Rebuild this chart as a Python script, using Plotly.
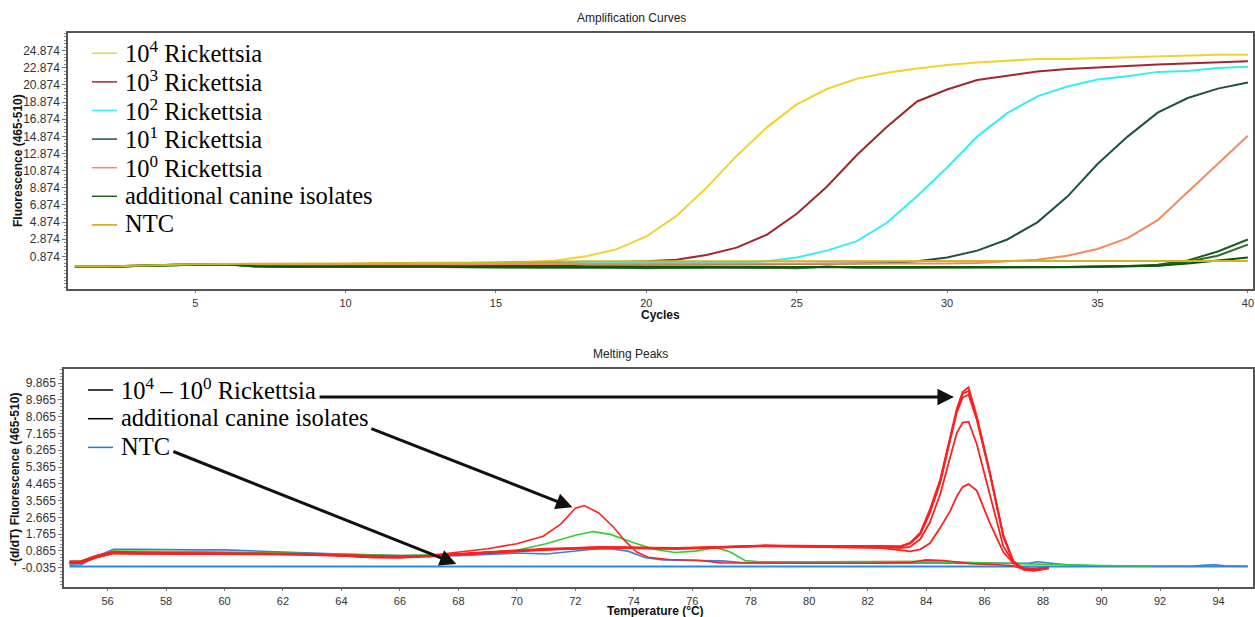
import plotly.graph_objects as go

# ---------------- Amplification data (cycles 1..40) ----------------
cycles = list(range(1, 41))

amp_1e4 = [-0.3, -0.3, -0.2, -0.1, -0.05, 0.0, -0.05, -0.05, -0.05, 0.0, 0.0, 0.05, 0.05, 0.1, 0.1, 0.2, 0.4, 0.9, 1.7, 3.2,
           5.6, 8.9, 12.6, 15.9, 18.6, 20.4, 21.6, 22.3, 22.8, 23.2, 23.5, 23.7, 23.9, 23.9, 24.0, 24.15, 24.25, 24.3, 24.4, 24.4]
amp_1e3 = [-0.3, -0.3, -0.2, -0.1, -0.05, 0.0, -0.1, -0.1, -0.1, -0.05, -0.05, 0.0, 0.0, 0.0, 0.05, 0.1, 0.1, 0.15, 0.2, 0.3,
           0.5, 1.05, 1.9, 3.4, 5.85, 9.0, 12.7, 16.0, 18.95, 20.35, 21.45, 21.95, 22.45, 22.75, 22.95, 23.1, 23.25, 23.4, 23.55, 23.65]
amp_1e2 = [-0.3, -0.3, -0.2, -0.1, -0.05, 0.0, -0.1, -0.1, -0.1, -0.05, -0.05, -0.05, 0.0, 0.0, 0.0, 0.05, 0.05, 0.1, 0.1, 0.1,
           0.1, 0.1, 0.15, 0.3, 0.75, 1.55, 2.65, 4.8, 7.9, 11.25, 14.85, 17.6, 19.55, 20.7, 21.5, 21.9, 22.4, 22.5, 22.85, 23.0]
amp_1e1 = [-0.3, -0.3, -0.2, -0.1, -0.05, 0.0, -0.15, -0.2, -0.2, -0.2, -0.2, -0.2, -0.2, -0.2, -0.2, -0.15, -0.15, -0.1, -0.1, -0.1,
           -0.1, -0.1, -0.05, -0.05, 0.0, 0.0, 0.05, 0.1, 0.3, 0.75, 1.55, 2.85, 4.85, 7.85, 11.65, 14.85, 17.65, 19.35, 20.45, 21.15]
amp_1e0 = [-0.3, -0.3, -0.2, -0.1, -0.05, 0.0, -0.1, -0.1, -0.1, -0.1, -0.05, -0.05, -0.05, -0.05, 0.0, 0.0, 0.0, 0.0, 0.0, 0.05,
           0.05, 0.05, 0.05, 0.05, 0.05, 0.05, 0.05, 0.05, 0.05, 0.05, 0.1, 0.3, 0.5, 0.95, 1.75, 3.0, 5.1, 8.4, 11.7, 14.95]
amp_can1 = [-0.35, -0.35, -0.25, -0.15, -0.1, -0.05, -0.3, -0.35, -0.35, -0.3, -0.35, -0.35, -0.35, -0.35, -0.4, -0.4, -0.4, -0.4, -0.4, -0.45,
            -0.4, -0.4, -0.4, -0.4, -0.45, -0.35, -0.4, -0.4, -0.4, -0.4, -0.4, -0.4, -0.4, -0.35, -0.3, -0.25, -0.1, 0.4, 1.45, 2.85]
amp_can2 = [-0.35, -0.35, -0.25, -0.15, -0.1, -0.05, -0.3, -0.3, -0.35, -0.3, -0.3, -0.35, -0.35, -0.4, -0.4, -0.4, -0.4, -0.4, -0.45, -0.5,
            -0.45, -0.4, -0.4, -0.45, -0.5, -0.3, -0.45, -0.45, -0.45, -0.45, -0.45, -0.45, -0.4, -0.4, -0.35, -0.3, -0.2, 0.25, 0.95, 2.25]
amp_can3 = [-0.35, -0.35, -0.25, -0.15, -0.1, -0.05, -0.25, -0.3, -0.3, -0.25, -0.3, -0.3, -0.3, -0.35, -0.35, -0.35, -0.35, -0.35, -0.4, -0.4,
            -0.4, -0.35, -0.35, -0.4, -0.4, -0.35, -0.4, -0.4, -0.4, -0.4, -0.4, -0.4, -0.4, -0.35, -0.3, -0.25, -0.2, 0.05, 0.37, 0.76]
amp_ntc = [-0.3, -0.3, -0.2, -0.1, -0.05, 0.0, 0.0, 0.0, 0.05, 0.05, 0.1, 0.1, 0.15, 0.15, 0.2, 0.25, 0.3, 0.3, 0.3, 0.3,
           0.3, 0.3, 0.3, 0.3, 0.3, 0.35, 0.35, 0.35, 0.35, 0.35, 0.35, 0.35, 0.35, 0.35, 0.35, 0.35, 0.35, 0.35, 0.35, 0.35]

amp_names = ["10<sup>4</sup> Rickettsia", "10<sup>3</sup> Rickettsia", "10<sup>2</sup> Rickettsia",
             "10<sup>1</sup> Rickettsia", "10<sup>0</sup> Rickettsia", "additional canine isolates", "NTC"]
amp_yticks = [0.874, 2.874, 4.874, 6.874, 8.874, 10.874, 12.874, 14.874, 16.874, 18.874, 20.874, 22.874, 24.874]

# ---------------- Melting peak data ----------------
temp_r = [54.7, 55.1, 55.6, 56.2, 57.0, 58.0, 59.0, 60.0, 61.0, 62.0, 63.0, 64.0, 65.0, 66.0, 67.0, 68.0, 69.0, 70.0,
          71.0, 72.0, 72.8, 73.5, 74.5, 75.5, 76.5, 77.5, 78.5, 79.5, 80.5, 81.5, 82.5, 83.1, 83.45, 83.8, 84.13, 84.48,
          84.82, 85.05, 85.25, 85.45, 85.73, 86.18, 86.64, 86.98, 87.33, 87.7, 88.2]
melt_r1 = [0.25, 0.28, 0.55, 0.78, 0.75, 0.72, 0.72, 0.72, 0.7, 0.72, 0.7, 0.62, 0.52, 0.5, 0.58, 0.68, 0.78, 0.88, 0.95, 1.0,
           1.05, 1.05, 1.02, 1.0, 1.05, 1.12, 1.15, 1.12, 1.1, 1.12, 1.1, 1.1, 1.3, 1.85, 3.1, 4.7, 7.0, 8.5, 9.4, 9.65,
           8.1, 5.1, 1.7, 0.3, -0.15, -0.2, -0.08]
melt_r2 = [0.3, 0.32, 0.6, 0.82, 0.78, 0.75, 0.74, 0.74, 0.72, 0.7, 0.68, 0.6, 0.55, 0.55, 0.6, 0.7, 0.8, 0.9, 0.98, 1.02,
           1.08, 1.02, 1.0, 0.98, 1.02, 1.08, 1.12, 1.1, 1.08, 1.1, 1.12, 1.08, 1.28, 1.8, 3.0, 4.6, 6.9, 8.4, 9.3, 9.45,
           8.0, 5.0, 1.6, 0.28, -0.12, -0.18, -0.06]
melt_r3 = [0.2, 0.22, 0.5, 0.75, 0.72, 0.7, 0.7, 0.7, 0.68, 0.68, 0.66, 0.6, 0.52, 0.5, 0.56, 0.66, 0.76, 0.86, 0.93, 0.98,
           1.02, 1.06, 1.04, 1.02, 1.06, 1.1, 1.14, 1.14, 1.12, 1.1, 1.08, 1.1, 1.25, 1.75, 2.9, 4.5, 6.8, 8.3, 9.1, 9.25,
           7.9, 5.0, 1.7, 0.32, -0.1, -0.16, -0.05]
melt_r4 = [0.28, 0.3, 0.58, 0.8, 0.76, 0.74, 0.73, 0.72, 0.72, 0.7, 0.68, 0.64, 0.58, 0.56, 0.6, 0.7, 0.8, 0.9, 0.96, 1.0,
           1.04, 1.04, 1.0, 0.98, 1.04, 1.1, 1.16, 1.12, 1.1, 1.1, 1.08, 1.02, 1.08, 1.5, 2.4, 3.9, 5.8, 7.2, 7.75, 7.8,
           6.6, 3.8, 1.1, 0.25, -0.1, -0.15, -0.05]
melt_r5 = [0.22, 0.25, 0.52, 0.76, 0.74, 0.72, 0.71, 0.7, 0.7, 0.7, 0.68, 0.62, 0.56, 0.54, 0.6, 0.68, 0.78, 0.88, 0.95, 1.0,
           1.02, 1.04, 1.02, 1.0, 1.02, 1.08, 1.12, 1.1, 1.08, 1.08, 1.02, 0.9, 0.84, 0.95, 1.27, 2.1, 3.0, 3.8, 4.3, 4.45,
           4.1, 2.35, 0.8, 0.2, -0.05, -0.1, -0.04]

temp_cred = [54.7, 55.1, 55.6, 56.2, 57.0, 58.0, 60.0, 62.0, 64.0, 66.0, 67.0, 68.0, 69.0, 70.0, 70.9, 71.5, 72.0, 72.3,
             72.8, 73.3, 73.7, 74.1, 74.5, 75.2, 76.2, 77.0, 78.0, 80.0, 82.0, 83.5, 84.0, 84.6, 85.5, 86.5, 87.0, 87.3, 88.2]
melt_cred = [0.2, 0.22, 0.5, 0.72, 0.7, 0.7, 0.7, 0.72, 0.65, 0.58, 0.62, 0.78, 0.98, 1.25, 1.65, 2.3, 3.15, 3.3,
             2.9, 2.15, 1.4, 0.8, 0.52, 0.4, 0.36, 0.22, 0.2, 0.2, 0.2, 0.25, 0.38, 0.35, 0.18, 0.12, 0.05, -0.1, -0.05]

temp_cgreen = [54.7, 55.1, 55.6, 56.2, 57.0, 58.0, 60.0, 62.0, 64.0, 66.0, 68.0, 69.0, 70.0, 71.0, 72.0, 72.6, 73.2, 74.0,
               74.7, 75.4, 76.1, 76.8, 77.3, 77.8, 78.3, 80.0, 82.0, 84.0, 86.0, 88.0, 90.0, 91.7]
melt_cgreen = [0.3, 0.32, 0.6, 0.85, 0.85, 0.82, 0.8, 0.75, 0.7, 0.62, 0.7, 0.8, 0.9, 1.25, 1.7, 1.9, 1.75, 1.3,
               0.95, 0.78, 0.85, 1.05, 0.8, 0.35, 0.28, 0.28, 0.28, 0.3, 0.22, 0.14, 0.08, 0.05]

temp_cblue = [54.7, 55.1, 55.6, 56.2, 57.0, 58.0, 59.0, 60.0, 61.0, 62.0, 64.0, 66.0, 68.0, 69.0, 70.0, 71.0, 72.0, 72.6,
              73.2, 73.8, 74.4, 75.0, 76.0, 77.0, 77.6, 78.2, 80.0, 82.0, 84.0, 86.0, 87.5, 87.8, 88.3, 88.8, 90.0, 91.0,
              92.0, 93.0, 93.6, 93.9, 94.2, 95.0]
melt_cblue = [0.1, 0.12, 0.55, 0.95, 0.95, 0.92, 0.92, 0.92, 0.88, 0.8, 0.7, 0.62, 0.6, 0.68, 0.75, 0.7, 0.85, 0.95,
              0.98, 0.85, 0.5, 0.38, 0.35, 0.33, 0.25, 0.22, 0.22, 0.22, 0.24, 0.22, 0.2, 0.28, 0.22, 0.12, 0.05, 0.05,
              0.04, 0.04, 0.1, 0.12, 0.06, 0.04]

temp_ntc = [54.7, 60.0, 70.0, 80.0, 90.0, 95.0]
melt_ntc = [0.03, 0.03, 0.03, 0.03, 0.03, 0.03]

melt_names = ["10<sup>4</sup> – 10<sup>0</sup> Rickettsia", "additional canine isolates", "NTC"]
melt_yticks = [-0.035, 0.865, 1.765, 2.665, 3.565, 4.465, 5.365, 6.265, 7.165, 8.065, 8.965, 9.865]

# ---------------- Figure ----------------
W, H = 1255, 617
fig = go.Figure()

amp_series = [amp_1e4, amp_1e3, amp_1e2, amp_1e1, amp_1e0]
amp_colors = ["#f2d22e", "#a3262c", "#33eef2", "#1f4e4b", "#f4895f"]
for vals, col, name in zip(amp_series, amp_colors, amp_names[:5]):
    fig.add_trace(go.Scatter(x=cycles, y=vals, mode="lines", name=name, line=dict(color=col, width=2),
                             xaxis="x", yaxis="y", showlegend=False))
can_colors = ["#1e5e1e", "#2b6e2b", "#0f560f"]
for vals, col in zip([amp_can1, amp_can2, amp_can3], can_colors):
    fig.add_trace(go.Scatter(x=cycles, y=vals, mode="lines", name=amp_names[5], line=dict(color=col, width=2),
                             showlegend=False, xaxis="x", yaxis="y"))
ntc_color = "#cdb626"
fig.add_trace(go.Scatter(x=cycles, y=amp_ntc, mode="lines", name=amp_names[6], line=dict(color=ntc_color, width=2),
                         xaxis="x", yaxis="y", showlegend=False))

# melting curves
fig.add_trace(go.Scatter(x=temp_ntc, y=melt_ntc, mode="lines", name="NTC", line=dict(color="#2a8ae0", width=2),
                         showlegend=False, xaxis="x2", yaxis="y2"))
fig.add_trace(go.Scatter(x=temp_cblue, y=melt_cblue, mode="lines", line=dict(color="#3a7fd8", width=1.6),
                         showlegend=False, xaxis="x2", yaxis="y2"))
fig.add_trace(go.Scatter(x=temp_cgreen, y=melt_cgreen, mode="lines", line=dict(color="#33cc33", width=1.6),
                         showlegend=False, xaxis="x2", yaxis="y2"))
for vals in [melt_r1, melt_r2, melt_r3, melt_r4, melt_r5]:
    fig.add_trace(go.Scatter(x=temp_r, y=vals, mode="lines", line=dict(color="#ff1f1f", width=1.8),
                             showlegend=False, xaxis="x2", yaxis="y2"))
fig.add_trace(go.Scatter(x=temp_cred, y=melt_cred, mode="lines", line=dict(color="#ff1f1f", width=1.6),
                         showlegend=False, xaxis="x2", yaxis="y2"))


def px_x(p):
    return p / W


def px_y(p):
    return 1 - p / H


axis_common = dict(showline=True, linecolor="#555555", linewidth=2, mirror=True, showgrid=False, zeroline=False,
                   ticks="outside", tickcolor="#777777")
xtick_font = dict(family="Liberation Sans", size=11, color="#333333")
ytick_font = dict(family="Liberation Sans", size=12, color="#333333")

fig.update_layout(
    width=W, height=H, margin=dict(l=0, r=0, t=0, b=0),
    paper_bgcolor="white", plot_bgcolor="white", showlegend=False,
    xaxis=dict(domain=[px_x(68.3), px_x(1253)], anchor="y", range=[0.78, 40.17], tick0=0, dtick=5,
               ticklen=2, tickfont=xtick_font, **axis_common),
    yaxis=dict(domain=[px_y(289.3), px_y(33.3)], anchor="x", range=[-2.96, 26.9], tickvals=amp_yticks,
               ticktext=[f"{v:.3f}" for v in amp_yticks], ticklen=4, tickfont=ytick_font,
               minor=dict(ticks="outside", ticklen=2, tick0=0.874, dtick=0.4, tickcolor="#888888"), **axis_common),
    xaxis2=dict(domain=[px_x(64.3), px_x(1253)], anchor="y2", range=[54.52, 95.18], tick0=0, dtick=2,
                ticklen=2, tickfont=xtick_font, **axis_common),
    yaxis2=dict(domain=[px_y(587.3), px_y(369.3)], anchor="x2", range=[-1.09, 10.61], tickvals=melt_yticks,
                ticktext=[f"{v:.3f}" for v in melt_yticks], ticklen=4, tickfont=ytick_font,
                minor=dict(ticks="outside", ticklen=2, tick0=-0.035, dtick=0.18, tickcolor="#888888"), **axis_common),
)

label_font = dict(family="Liberation Sans", size=12, color="#222222")
bold_font = dict(family="Liberation Sans", size=12, color="#111111")
legend_font = dict(family="Liberation Serif", size=24.5, color="black")
annotations = [
    dict(text="Amplification Curves", x=px_x(631), y=px_y(18), xref="paper", yref="paper", showarrow=False,
         font=label_font, xanchor="center", yanchor="middle"),
    dict(text="Melting Peaks", x=px_x(630), y=px_y(354), xref="paper", yref="paper", showarrow=False,
         font=label_font, xanchor="center", yanchor="middle"),
    dict(text="<b>Cycles</b>", x=px_x(660), y=px_y(315), xref="paper", yref="paper", showarrow=False,
         font=bold_font, xanchor="center", yanchor="middle"),
    dict(text="<b>Temperature (°C)</b>", x=px_x(655), y=px_y(611), xref="paper", yref="paper", showarrow=False,
         font=bold_font, xanchor="center", yanchor="middle"),
    dict(text="<b>Fluorescence (465-510)</b>", x=px_x(18), y=px_y(161), xref="paper", yref="paper", showarrow=False,
         font=bold_font, textangle=-90, xanchor="center", yanchor="middle"),
    dict(text="<b>-(d/dT) Fluorescence (465-510)</b>", x=px_x(15), y=px_y(480), xref="paper", yref="paper",
         showarrow=False, font=bold_font, textangle=-90, xanchor="center", yanchor="middle"),
]
shapes = []

# hand-drawn style legends (as in the figure): key line + label
top_legend_colors = amp_colors + [can_colors[0], "#d4a000"]
for i, (name, col) in enumerate(zip(amp_names, top_legend_colors)):
    yy = 53.3 + i * 28.6
    shapes.append(dict(type="line", xref="paper", yref="paper", x0=px_x(92), x1=px_x(117), y0=px_y(yy), y1=px_y(yy),
                       line=dict(color=col, width=1.5)))
    annotations.append(dict(text=name, x=px_x(123), y=px_y(yy - 1), xref="paper", yref="paper", showarrow=False,
                            font=legend_font, xanchor="left", yanchor="middle"))
for i, (name, col) in enumerate(zip(melt_names, ["black", "black", "#1a7fd4"])):
    yy = 390 + i * 28.7
    shapes.append(dict(type="line", xref="paper", yref="paper", x0=px_x(88), x1=px_x(113), y0=px_y(yy), y1=px_y(yy),
                       line=dict(color=col, width=1.5)))
    annotations.append(dict(text=name, x=px_x(119), y=px_y(yy - 1), xref="paper", yref="paper", showarrow=False,
                            font=legend_font, xanchor="left", yanchor="middle"))

# arrows (head, tail) in data units of the melting plot
arrows = [((84.95, 9.13), (63.2, 9.13)), ((71.9, 3.2), (64.97, 7.46)), ((67.93, 0.16), (58.2, 6.23))]
for (hx, hy), (tx, ty) in arrows:
    annotations.append(dict(x=hx, y=hy, ax=tx, ay=ty, xref="x2", yref="y2", axref="x2", ayref="y2", text="",
                            showarrow=True, arrowhead=2, arrowsize=1.1, arrowwidth=3, arrowcolor="#111111"))
fig.update_layout(annotations=annotations, shapes=shapes)

fig.write_html("out.html")
